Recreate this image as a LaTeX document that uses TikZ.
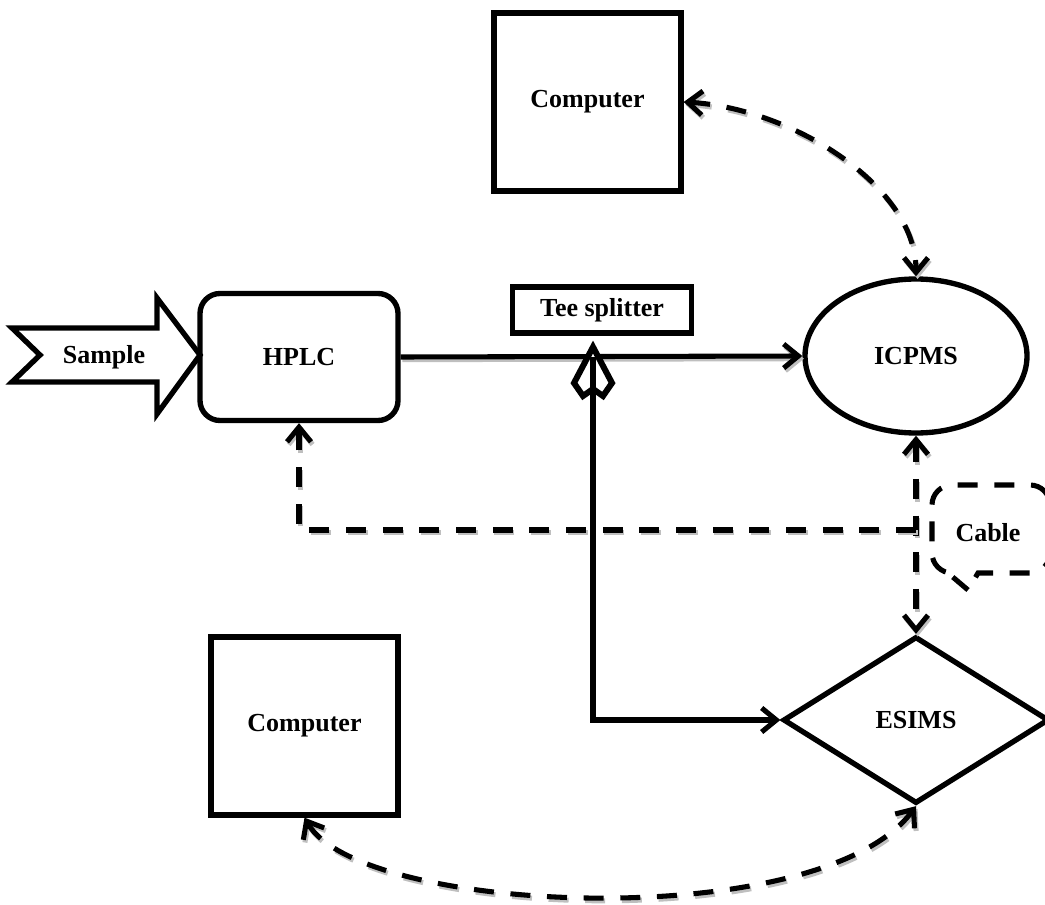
\documentclass[tikz,border=0pt]{standalone}
\usepackage{fontspec}
\setmainfont{Liberation Serif}
\usetikzlibrary{arrows.meta,shapes.geometric}
\begin{document}
\begin{tikzpicture}[x=0.75pt,y=-0.75pt,
  lbl/.style={inner sep=0pt,font=\bfseries\fontsize{19.5}{23}\selectfont},
  box/.style={lbl,draw,line width=4pt,rectangle},
  conn/.style={line width=3.8pt},
  dsh/.style={conn,dash pattern=on 15pt off 12.5pt},
  dshadow/.style={preaction={draw=gray!50,line width=3.8pt,dash pattern=on 15pt off 12.5pt,transform canvas={shift={(1.2pt,-2pt)}}}},
  sshadow/.style={preaction={draw=gray!50,line width=3.8pt,transform canvas={shift={(1.2pt,-2pt)}}}},
  >={Straight Barb[length=11pt,width=18pt]}]
\useasboundingbox (0,0) rectangle (1045,905);
\clip (0,0) rectangle (1045,905);

% nodes
\node[box,minimum width=140.25pt,minimum height=133.5pt] (ctop) at (587.5,102) {Computer};
\node[box,minimum width=140.25pt,minimum height=133.5pt] (cbot) at (304.5,726) {Computer};
\node[box,rounded corners=15pt,minimum width=148.5pt,minimum height=95.25pt] (hplc) at (299,357) {HPLC};
\node[box,minimum width=134.25pt,minimum height=34.5pt] (tee) at (602,310) {Tee splitter};
\node[box,ellipse,minimum width=166.5pt,minimum height=115.5pt] (icp) at (916,356) {ICPMS};
\node[box,diamond,minimum width=199.5pt,minimum height=125.25pt] (esims) at (916,720) {ESIMS};

% sample arrow
\draw[line width=4pt,line join=miter,fill=white] (12,328) -- (157,328) -- (157,298) -- (200,355) -- (157,414) -- (157,382) -- (12,382) -- (40,355) -- cycle;
\node[lbl] (sample) at (104,357) {Sample};

% cable callout
\draw[dsh] (968,590) -- (948,573) [rounded corners=15pt] -- (932,573) -- (932,485) -- (1050,485) -- (1050,573) [sharp corners] -- (978,573) -- cycle;
\node[lbl] (cable) at (988,533) {Cable};

% coordinates
\coordinate (tj) at (593,357);
\coordinate (cj) at (916,530);

% connectors
\draw[conn,sshadow,->] (hplc.east) -- (icp.west);
\draw[line width=4.5pt,line join=miter,fill=white] (593,347) -- (612,383) -- (603,396) -- (593,389) -- (583,396) -- (574,383) -- cycle;
\draw[conn,->] (tj) |- (esims.west);
\draw[dsh,dshadow,<->] (ctop.east) .. controls (790,108) and (916,185) .. (icp.north);
\draw[dsh,dshadow,<->] (icp.south) -- (esims.north);
\draw[dsh,dshadow,->] (cj) -| (hplc.south);
\draw[dsh,dshadow,<->] (cbot.south) .. controls (360,915) and (820,935) .. (esims.south);
\end{tikzpicture}
\end{document}
